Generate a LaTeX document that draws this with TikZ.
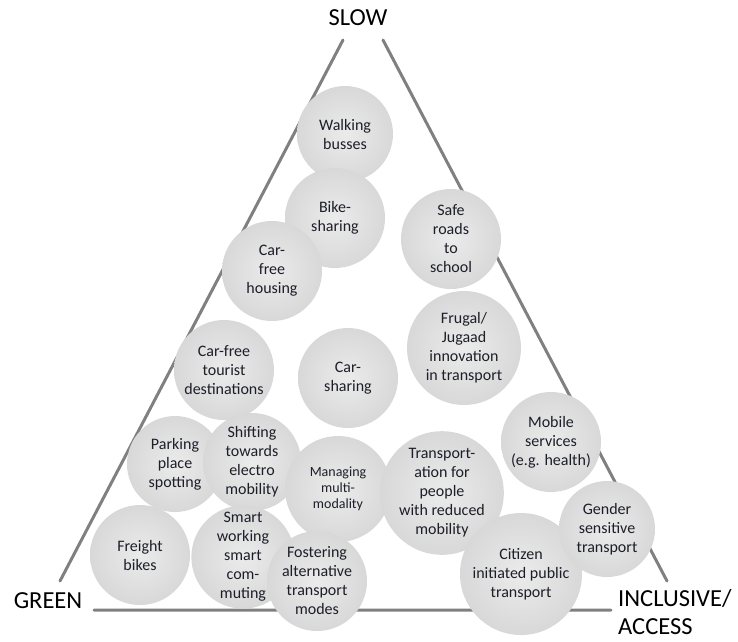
\documentclass[tikz,border=0pt]{standalone}
\usepackage{fontspec}
\setmainfont{Carlito}
\definecolor{linegray}{HTML}{808080}
\definecolor{ballin}{HTML}{EBEBEB}
\definecolor{ballout}{HTML}{D8D8D8}
\definecolor{balltext}{HTML}{1C1F28}
\tikzset{
	ball/.style={circle, inner sep=0pt, inner color=ballin, outer color=ballout,
		text=balltext, align=center, font=\fontsize{16}{19}\selectfont},
	corner/.style={font=\fontsize{24.5}{28}\selectfont, text=black}
}
\begin{document}
\begin{tikzpicture}[x=1pt, y=-1pt, line join=round, line cap=round]
	\useasboundingbox (0,0) rectangle (738,641);
	%% triangle ends
	\path 
	(343,40) coordinate (T1)
	(383,40) coordinate (T2)
	(60,581) coordinate (L1)
	(94,610) coordinate (L2)
	(611,610) coordinate (R1)
	(667,581) coordinate (R2)
	;
	\draw[linegray, line width=3pt] (T1)--(L1) (L2)--(R1) (R2)--(T2);
	%% corner labels
	\node[corner] (slow) at (358,18) {SLOW};
	\node[corner] (green) at (48,601) {GREEN};
	\node[corner, align=left, anchor=west, inner sep=1pt] (incl) at (617,612) {INCLUSIVE/\\ACCESS};
	%% balls
	\foreach \n/\p/\r/\t in {
		walk/{345,134}/48/{Walking\\busses},
		bike/{335,218}/50/{Bike-\\sharing},
		house/{272,271}/50/{Car-\\free\\housing},
		safe/{451,239}/50/{Safe\\roads\\to\\school},
		frugal/{464,348}/57/{Frugal/\\Jugaad\\innovation\\in transport},
		tourist/{224,370}/50/{Car-free\\tourist\\destinations},
		carshare/{348,378}/50/{Car-\\sharing},
		parking/{175,464}/48/{Parking\\place\\spotting},
		shift/{252,462}/49/{Shifting\\towards\\electro\\mobility}}
	\node[ball, minimum size=2*\r] (\n) at (\p) {\t};
	\node[ball, minimum size=106, font=\fontsize{14}{16}\selectfont] (manage) at (338,489) {Managing\\multi-\\modality};
	\foreach \n/\p/\r/\t in {
		transp/{442,493}/57/{Transport-\\ation for\\people\\with reduced\\mobility},
		mobile/{551,442}/50/{Mobile\\services\\(e.g. health)},
		freight/{140,555}/50/{Freight\\bikes},
		smart/{243,557}/49/{Smart\\working\\smart\\com-\\muting},
		foster/{317,581}/50/{Fostering\\alternative\\transport\\modes},
		citizen/{521,574}/61/{Citizen\\initiated public\\transport},
		gender/{607,529}/48/{Gender\\sensitive\\transport}}
	\node[ball, minimum size=2*\r] (\n) at (\p) {\t};
\end{tikzpicture}
\end{document}
